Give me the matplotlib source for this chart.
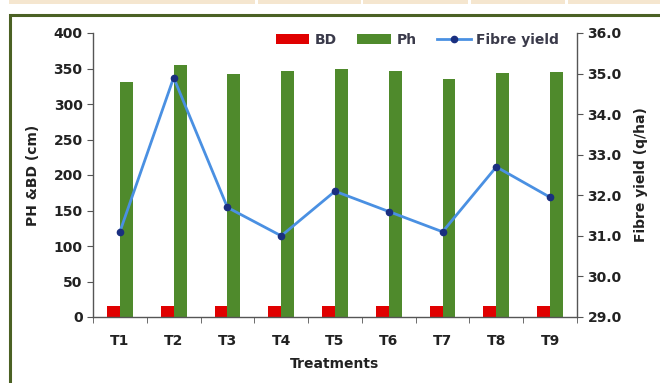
import matplotlib
matplotlib.use("Agg")
import matplotlib.pyplot as plt
from matplotlib.patches import Rectangle
import numpy as np

treatments = ["T1", "T2", "T3", "T4", "T5", "T6", "T7", "T8", "T9"]
bd = [15, 15, 15, 15, 15, 15, 15, 15, 15]
ph = [331, 355, 342, 346, 349, 346, 335, 344, 345]
fibre_yield = [31.1, 34.9, 31.7, 31.0, 32.1, 31.6, 31.1, 32.7, 31.95]

left_ticks = [0, 50, 100, 150, 200, 250, 300, 350, 400]
right_ticks = [29.0, 30.0, 31.0, 32.0, 33.0, 34.0, 35.0, 36.0]

plt.rcParams['font.family'] = ['DejaVu Sans']
W, H = 660, 383
fig = plt.figure(figsize=(W / 100, H / 100), dpi=100)
fig.patch.set_facecolor("white")

# top beige strips and green frame
for x0, x1 in [(9, 255), (258, 361), (363, 468), (471, 565), (568, 660)]:
    fig.patches.append(Rectangle((x0 / W, 1 - 3.5 / H), (x1 - x0) / W, 3.5 / H,
                                 transform=fig.transFigure, facecolor="#f5e6cf",
                                 edgecolor="none"))
fig.patches.append(Rectangle((10.5 / W, -0.1), 1.2, 1.1 - 15.5 / H,
                             transform=fig.transFigure, fill=False,
                             edgecolor="#4b6124", linewidth=2.2, clip_on=False))

ax = fig.add_axes([93 / W, 1 - 317 / H, (577 - 93) / W, (317 - 33) / H])
ax2 = ax.twinx()

x = np.arange(len(treatments))
w = 0.24
tc = "#222222"
fs = 10

b1 = ax.bar(x - w / 2, bd, width=w, color="#e00000", label="BD", zorder=2)
b2 = ax.bar(x + w / 2, ph, width=w, color="#4f8a2c", label="Ph", zorder=2)
l1, = ax2.plot(x, fibre_yield, color="#4a90e2", linewidth=2,
               marker="o", markersize=4.5, markerfacecolor="#1a2f80",
               markeredgecolor="#1a2f80", label="Fibre yield")

ax.set_xlim(-0.5, len(treatments) - 0.5)
ax.set_ylim(0, 400)
ax.set_yticks(left_ticks)
ax2.set_ylim(29, 36)
ax2.set_yticks(right_ticks)
ax2.set_yticklabels([f"{v:.1f}" for v in right_ticks])

ax.set_xticks(x)
ax.set_xticklabels(treatments)
ax.set_xticks(np.arange(-0.5, len(treatments), 1.0), minor=True)
ax.tick_params(axis="x", which="major", length=0, pad=12)
ax.tick_params(axis="x", which="minor", length=4, direction="out", color="#555555")

for a in (ax, ax2):
    a.set_facecolor("none")
    a.spines["top"].set_visible(False)
    for s in ("left", "right", "bottom"):
        a.spines[s].set_color("#555555")
        a.spines[s].set_linewidth(1.0)
    a.tick_params(axis="y", length=4, direction="out", color="#555555",
                  labelsize=fs, labelcolor=tc)
    for lab in a.get_yticklabels():
        lab.set_fontweight("bold")
ax.tick_params(axis="x", labelsize=fs, labelcolor=tc)
for lab in ax.get_xticklabels():
    lab.set_fontweight("bold")
ax2.spines["left"].set_visible(False)
ax2.spines["bottom"].set_visible(False)
ax.spines["right"].set_visible(False)

ax.set_ylabel("PH &BD (cm)", fontsize=fs, fontweight="bold", color=tc, labelpad=10)
ax2.set_ylabel("Fibre yield (q/ha)", fontsize=fs, fontweight="bold", color=tc, labelpad=9)
ax.set_xlabel("Treatments", fontsize=fs, fontweight="bold", color=tc, labelpad=7)

fig.legend(handles=[b1, b2, l1], loc="center right",
           bbox_to_anchor=(566 / W, 1 - 40 / H), ncol=3, frameon=False,
           prop={"size": fs, "weight": "bold"}, handlelength=2.4,
           handletextpad=0.4, columnspacing=1.5, borderpad=0,
           labelcolor="#3a3a4a")

fig.savefig("out.png", dpi=100)
